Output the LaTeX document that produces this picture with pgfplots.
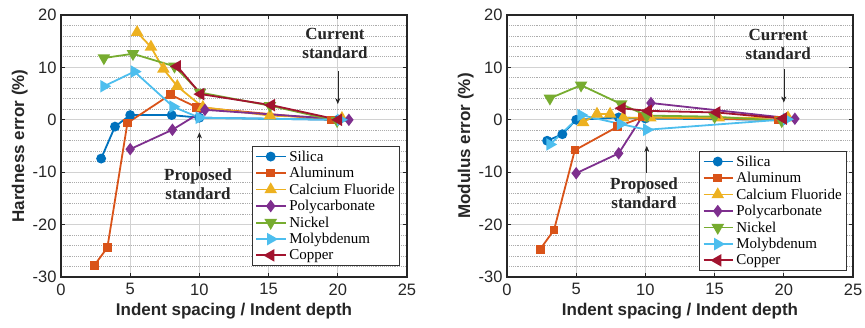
\documentclass[border=0pt]{standalone}
\usepackage{pgfplots}
\pgfplotsset{compat=1.18}
\usepackage{fontspec}
\setmainfont{Liberation Serif}
\setsansfont{Liberation Sans}
\usetikzlibrary{arrows.meta}

\definecolor{cSi}{rgb}{0,0.447,0.741}
\definecolor{cAl}{rgb}{0.85,0.325,0.098}
\definecolor{cCa}{rgb}{0.929,0.694,0.125}
\definecolor{cPc}{rgb}{0.494,0.184,0.556}
\definecolor{cNi}{rgb}{0.466,0.674,0.188}
\definecolor{cMo}{rgb}{0.301,0.745,0.933}
\definecolor{cCu}{rgb}{0.635,0.078,0.184}

\tikzset{
  ann/.style={font=\rmfamily\bfseries\fontsize{17}{19}\selectfont, align=center, text=black!85},
  annarrow/.style={-{Stealth[length=6pt,width=5pt]}, line width=0.6pt, black!85},
}

\pgfplotsset{
  errax/.style={
    scale only axis, width=346pt, height=262pt,
    xmin=0, xmax=25, ymin=-30, ymax=20,
    xtick={0,5,...,25}, ytick={-30,-20,...,20},
    minor y tick num=4,
    xmajorgrids, ymajorgrids, yminorgrids,
    major grid style={line width=0.9pt, gray!35},
    minor grid style={line width=0.9pt, densely dotted, gray!65},
    axis line style={line width=1.3pt, black!85},
    tick style={line width=0.8pt, black!85},
    major tick length=4pt, minor tick length=0pt,
    tick align=inside,
    /pgf/number format/assume math mode=true,
    ticklabel style={font=\sffamily\fontsize{16.5}{16.5}\selectfont, text=black!85},
    xticklabel style={yshift=-3pt},
    yticklabel style={xshift=-1pt},
    label style={font=\sffamily\bfseries\fontsize{17}{17}\selectfont, text=black!85},
    xlabel={Indent spacing / Indent depth},
    xlabel style={yshift=-1pt},
    ylabel style={yshift=-2pt},
    legend cell align=left,
    legend style={font=\rmfamily\fontsize{15}{15}\selectfont, draw=black!80, line width=0.8pt,
      row sep=0.6pt, inner xsep=3pt, inner ysep=2.5pt},
    legend image code/.code={
      \draw[mark repeat=2, mark phase=2, #1] plot coordinates {(0cm,0cm) (0.5cm,0cm) (1.05cm,0cm)};
    },
    every axis plot/.append style={line width=1.8pt},
  },
}

\begin{document}
\begin{tikzpicture}
\path[use as bounding box] (0,0) rectangle (865pt,327pt);

% ---------- Hardness ----------
\begin{axis}[errax, at={(61pt,50pt)}, anchor=south west,
  ylabel={Hardness error (\%)},
  legend style={at={(0.98,0.042)}, anchor=south east}]
\addplot[cSi, mark=*, mark size=4pt] coordinates {(2.9,-7.4) (3.9,-1.3) (5.0,0.9) (8.0,0.9) (10.0,0.4) (20.0,0)};
\addplot[cAl, mark=square*, mark size=3.4pt] coordinates {(2.4,-27.8) (3.35,-24.4) (4.8,-0.6) (7.9,4.8) (9.8,2.4) (19.5,0)};
\addplot[cCa, mark=triangle*, mark size=5.5pt] coordinates {(5.5,16.7) (6.5,13.9) (7.4,9.7) (8.4,6.4) (10.25,2.4) (15.1,0.8) (20.3,0.3)};
\addplot[cPc, mark=diamond*, mark size=4.8pt] coordinates {(5.0,-5.6) (8.05,-1.9) (10.4,1.9) (20.8,0)};
\addplot[cNi, mark=triangle*, mark options={rotate=180}, mark size=5.5pt] coordinates {(3.1,11.8) (5.2,12.6) (8.2,10.2) (10.05,5.2) (15.1,2.7) (19.95,-0.2)};
\addplot[cMo, mark=triangle*, mark options={rotate=-90}, mark size=5.5pt] coordinates {(3.1,6.4) (5.3,9.2) (8.1,2.5) (10.0,0.4) (20.2,0)};
\addplot[cCu, mark=triangle*, mark options={rotate=90}, mark size=5.5pt] coordinates {(8.4,10.2) (10.1,4.9) (15.2,2.8) (20.05,0)};
\legend{Silica,Aluminum,Calcium Fluoride,Polycarbonate,Nickel,Molybdenum,Copper}
\node[ann] at (axis cs:19.8,14.6) {Current\\standard};
\draw[annarrow] (axis cs:20,9.3) -- (axis cs:20,3.0);
\node[ann] at (axis cs:9.9,-12.3) {Proposed\\standard};
\draw[annarrow] (axis cs:10,-8.9) -- (axis cs:10,-2.4);
\end{axis}

% ---------- Modulus ----------
\begin{axis}[errax, at={(507pt,50pt)}, anchor=south west,
  ylabel={Modulus error (\%)},
  legend style={at={(0.983,0.023)}, anchor=south east}]
\addplot[cSi, mark=*, mark size=4pt] coordinates {(2.9,-4.0) (4.0,-2.75) (5.0,0) (8.07,0.45) (10.0,0.25) (20.0,0)};
\addplot[cAl, mark=square*, mark size=3.4pt] coordinates {(2.4,-24.7) (3.4,-21.0) (4.9,-5.8) (8.0,-1.3) (9.8,0.5) (19.6,0)};
\addplot[cCa, mark=triangle*, mark size=5.5pt] coordinates {(5.5,-0.5) (6.5,1.1) (7.45,1.1) (8.4,0.4) (10.35,0.4) (15.3,0.4) (20.3,0.4)};
\addplot[cPc, mark=diamond*, mark size=4.8pt] coordinates {(5.0,-10.2) (8.07,-6.4) (10.4,3.2) (20.8,0.2)};
\addplot[cNi, mark=triangle*, mark options={rotate=180}, mark size=5.5pt] coordinates {(3.1,4.1) (5.35,6.6) (8.25,3.0) (10.1,0.8) (15.0,0.6) (19.85,-0.2)};
\addplot[cMo, mark=triangle*, mark options={rotate=-90}, mark size=5.5pt] coordinates {(3.1,-4.7) (5.35,0.9) (8.2,-0.8) (10.1,-1.9) (20.2,0.1)};
\addplot[cCu, mark=triangle*, mark options={rotate=90}, mark size=5.5pt] coordinates {(8.3,2.2) (10.2,1.7) (15.15,1.4) (19.95,0.25)};
\legend{Silica,Aluminum,Calcium Fluoride,Polycarbonate,Nickel,Molybdenum,Copper}
\node[ann] at (axis cs:19.6,14.4) {Current\\standard};
\draw[annarrow] (axis cs:20,9.7) -- (axis cs:20,3.3);
\node[ann] at (axis cs:9.9,-14.0) {Proposed\\standard};
\draw[annarrow] (axis cs:10.1,-10.1) -- (axis cs:10.1,-5.0);
\end{axis}
\end{tikzpicture}
\end{document}
